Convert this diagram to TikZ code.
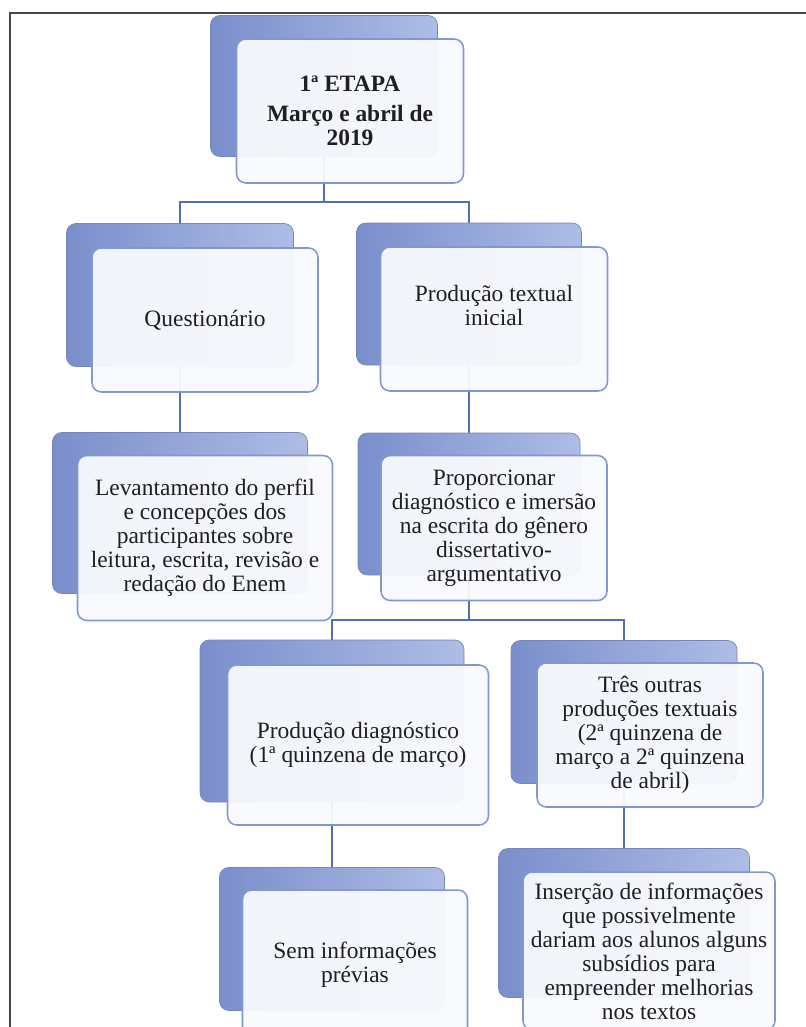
\documentclass[tikz,border=0pt]{standalone}
\usepackage{fontspec}
\setmainfont{Liberation Serif}
\usepackage{tikz}
\usetikzlibrary{backgrounds}
\definecolor{backdark}{RGB}{122,142,204}
\definecolor{backlight}{RGB}{174,189,229}
\definecolor{backline}{RGB}{118,134,182}
\definecolor{frontfill}{RGB}{248,250,253}
\definecolor{frontline}{RGB}{128,152,210}
\definecolor{linkcol}{RGB}{82,112,172}
\definecolor{framecol}{RGB}{70,70,70}
\newcommand{\boxfont}{\fontsize{20}{20.5}\selectfont}
\tikzset{
  backbox/.style={draw=backline, line width=0.6pt, rounded corners=8pt, left color=backdark, right color=backlight, inner sep=0pt},
  frontbox/.style={draw=frontline, line width=1.3pt, rounded corners=8pt, fill=frontfill, fill opacity=0.95, text opacity=1, text=black!88, align=center, inner sep=0pt, font=\boxfont},
  boxsize/.style 2 args={minimum width=#1*0.03cm, minimum height=#2*0.03cm},
  link/.style={draw=linkcol, line width=1.4pt},
}

\begin{document}
\begin{tikzpicture}[x=0.03cm, y=-0.03cm]
    \useasboundingbox (0,0) rectangle (806,1027);
    \clip (0,0) rectangle (806,1027);
    \draw[framecol, line width=2.4pt] (806,13) -- (10,13) -- (10,1027);

    \node[backbox, boxsize={227}{141}] (etapa-b) at (324,86) {};
    \node[frontbox, boxsize={227}{144}, font=\boxfont\bfseries] (etapa) at (350,111) {1ª ETAPA\\[5pt]Março e abril de\\2019};

    \node[backbox, boxsize={227}{143}] (quest-b) at (180,295) {};
    \node[frontbox, boxsize={226}{144}] (quest) at (205,320) {Questionário};
    \node[backbox, boxsize={225}{142}] (prod-b) at (469,294) {};
    \node[frontbox, boxsize={227}{144}, text depth=24pt] (prod) at (494,319) {Produção textual\\inicial};

    \node[backbox, boxsize={255}{161}] (perfil-b) at (180,513) {};
    \node[frontbox, boxsize={255}{165}] (perfil) at (205,538) {Levantamento do perfil\\e concepções dos\\participantes sobre\\leitura, escrita, revisão e\\redação do Enem};
    \node[backbox, boxsize={222}{142}] (prop-b) at (469,504) {};
    \node[frontbox, boxsize={226}{145}] (prop) at (494,528) {Proporcionar\\diagnóstico e imersão\\na escrita do gênero\\dissertativo-\\argumentativo};

    \node[backbox, boxsize={264}{162}] (diag-b) at (332,721) {};
    \node[frontbox, boxsize={261}{160}] (diag) at (358,745) {Produção diagnóstico\\(1ª quinzena de março)};
    \node[backbox, boxsize={226}{143}] (tres-b) at (624,712) {};
    \node[frontbox, boxsize={226}{144}] (tres) at (650,735) {Três outras\\produções textuais\\(2ª quinzena de\\março a 2ª quinzena\\de abril)};

    \node[backbox, boxsize={225}{143}] (sem-b) at (332,939) {};
    \node[frontbox, boxsize={225}{150}] (sem) at (355,965) {Sem informações\\prévias};
    \node[backbox, boxsize={251}{149}] (ins-b) at (624,923) {};
    \node[frontbox, boxsize={252}{158}] (ins) at (649,951) {Inserção de informações\\que possivelmente\\dariam aos alunos alguns\\subsídios para\\empreender melhorias\\nos textos};

    \begin{scope}[on background layer]
    \coordinate (j1) at (324,202);
    \coordinate (j2) at (469,620);
    \draw[link] (etapa-b.south) -- (j1) -| (quest-b.north);
    \draw[link] (j1) -| (prod-b.north);
    \draw[link] (quest-b.south) -- (perfil-b.north);
    \draw[link] (prod-b.south) -- (prop-b.north);
    \draw[link] (prop-b.south) -- (j2) -| (diag-b.north);
    \draw[link] (j2) -| (tres-b.north);
    \draw[link] (diag-b.south) -- (sem-b.north);
    \draw[link] (tres-b.south) -- (ins-b.north);
    \end{scope}
\end{tikzpicture}
\end{document}
